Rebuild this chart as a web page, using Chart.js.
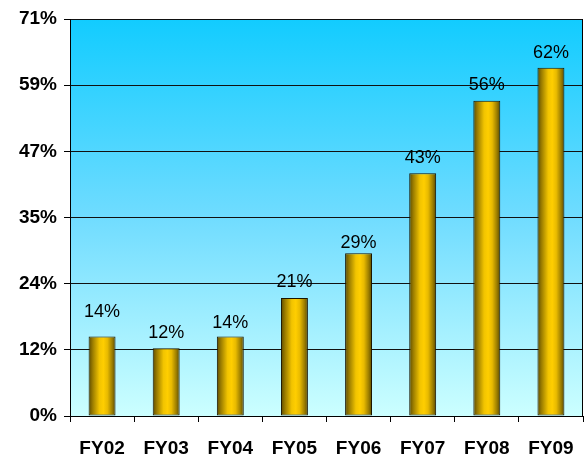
<!DOCTYPE html>
<html>
<head>
<meta charset="utf-8">
<script src="https://cdn.jsdelivr.net/npm/chart.js@4/dist/chart.umd.min.js"></script>
<style>
  html, body { margin: 0; padding: 0; background: #fff; }
  #wrap { width: 584px; height: 462px; }
</style>
</head>
<body>
<div id="wrap"><canvas id="c" width="584" height="462"></canvas></div>
<script>
const categories = ['FY02', 'FY03', 'FY04', 'FY05', 'FY06', 'FY07', 'FY08', 'FY09'];
const values = [14.2, 12.1, 14.2, 21.1, 29.1, 43.4, 56.4, 62.3];
const valueLabels = ['14%', '12%', '14%', '21%', '29%', '43%', '56%', '62%'];
const yTickLabels = ['0%', '12%', '24%', '35%', '47%', '59%', '71%'];
const yMax = 71;

const FONT = "'Liberation Sans', Arial, sans-serif";
const labelGap = [20, 10, 9, 11, 5, 10, 11, 10];

const bgPlugin = {
  id: 'bg',
  beforeDraw(chart) {
    const { ctx, chartArea: a } = chart;
    const g = ctx.createLinearGradient(0, a.top, 0, a.bottom);
    g.addColorStop(0, '#12CCFF');
    g.addColorStop(0.5, '#70DCFF');
    g.addColorStop(1, '#CCFFFF');
    ctx.save();
    ctx.fillStyle = g;
    ctx.fillRect(a.left, a.top, a.right - a.left, a.bottom - a.top);
    ctx.restore();
  },
  beforeDatasetsDraw(chart) {
    const { ctx, chartArea: a } = chart;
    ctx.save();
    ctx.strokeStyle = '#000';
    ctx.lineWidth = 1;
    ctx.beginPath();
    ctx.moveTo(Math.round(a.right) - 0.5, a.top);
    ctx.lineTo(Math.round(a.right) - 0.5, a.bottom);
    ctx.stroke();
    ctx.restore();
  },
  afterDatasetsDraw(chart) {
    const { ctx } = chart;
    const meta = chart.getDatasetMeta(0);
    ctx.save();
    ctx.font = '18px ' + FONT;
    ctx.fillStyle = '#000';
    ctx.textAlign = 'center';
    ctx.textBaseline = 'alphabetic';
    meta.data.forEach((bar, i) => {
      ctx.fillText(valueLabels[i], bar.x, bar.y - labelGap[i]);
    });
    ctx.restore();
  }
};

function barGradient(context) {
  const chart = context.chart;
  const a = chart.chartArea;
  if (!a) return '#FFCC00';
  const xs = chart.scales.x;
  const cx = xs.getPixelForValue(context.dataIndex);
  const w = (a.right - a.left) / categories.length * 0.42;
  const g = chart.ctx.createLinearGradient(cx - w / 2, 0, cx + w / 2, 0);
  g.addColorStop(0, '#5C4A00');
  g.addColorStop(0.15, '#9A7C00');
  g.addColorStop(0.4, '#F2C400');
  g.addColorStop(0.55, '#FFCE00');
  g.addColorStop(0.7, '#E8BA00');
  g.addColorStop(0.88, '#9A7C00');
  g.addColorStop(1, '#5A4800');
  return g;
}

new Chart(document.getElementById('c'), {
  type: 'bar',
  data: {
    labels: categories,
    datasets: [{
      data: values,
      backgroundColor: barGradient,
      borderColor: '#1a1400',
      borderWidth: 1,
      borderSkipped: false,
      categoryPercentage: 1,
      barPercentage: 0.42
    }]
  },
  options: {
    responsive: false,
    animation: false,
    devicePixelRatio: 1,
    layout: { padding: { top: 19, right: 1, left: 0, bottom: 0 } },
    plugins: { legend: { display: false }, tooltip: { enabled: false } },
    scales: {
      x: {
        afterFit(s) { s.height = 46; s.paddingLeft = 0; s.paddingRight = 0; },
        grid: { display: true, drawOnChartArea: false, drawTicks: true, tickLength: 6, color: '#000', offset: true },
        border: { display: true, color: '#000', width: 1 },
        ticks: { color: '#000', font: { family: FONT, size: 19, weight: 'bold' }, padding: 15, maxRotation: 0 }
      },
      y: {
        min: 0,
        max: yMax,
        afterFit(s) { s.width = 70; s.paddingTop = 0; s.paddingBottom = 0; },
        afterBuildTicks(s) {
          s.ticks = yTickLabels.map((_, i) => ({ value: yMax * i / (yTickLabels.length - 1) }));
        },
        grid: { color: '#111', lineWidth: 1, drawTicks: true, tickLength: 6, tickColor: '#000' },
        border: { display: true, color: '#000', width: 1 },
        ticks: {
          color: '#000',
          font: { family: FONT, size: 19, weight: 'bold' },
          padding: 7,
          callback(v, i) { return yTickLabels[i]; }
        }
      }
    }
  },
  plugins: [bgPlugin]
});
</script>
</body>
</html>
